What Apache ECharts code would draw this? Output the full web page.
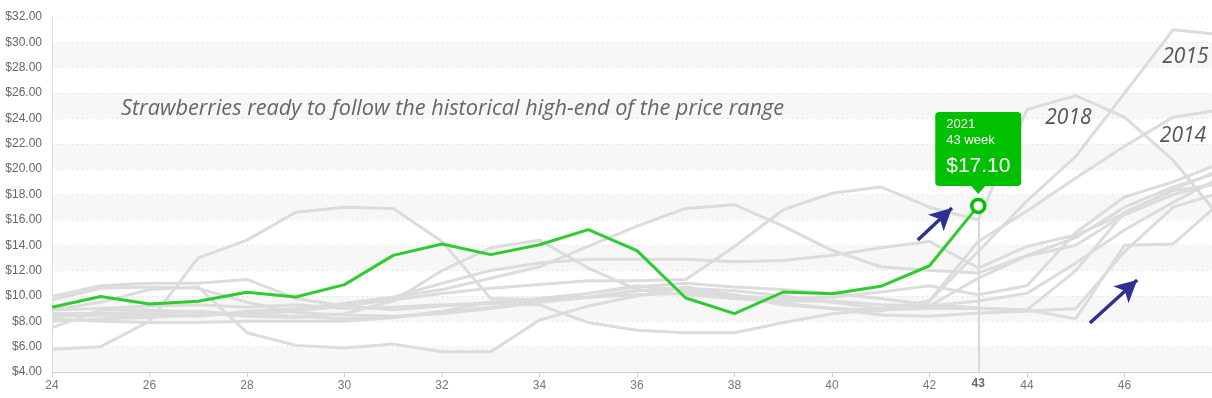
<!DOCTYPE html>
<html>
<head>
<meta charset="utf-8">
<script src="https://cdn.jsdelivr.net/npm/echarts@6/dist/echarts.min.js"></script>
<style>html,body{margin:0;padding:0;background:#fff}#c{width:1212px;height:398px}</style>
</head>
<body>
<div id="c"></div>
<script>
// weeks 24..48
var weeks = [24,25,26,27,28,29,30,31,32,33,34,35,36,37,38,39,40,41,42,43,44,45,46,47,48];
var yTicks = [4,6,8,10,12,14,16,18,20,22,24,26,28,30,32];

var y2021 = [9.1,9.95,9.37,9.58,10.29,9.92,10.89,13.2,14.1,13.26,14.04,15.23,13.57,9.84,8.6,10.31,10.18,10.76,12.38,17.1];

var y2015 = [5.8,6.0,8.0,13.0,14.4,16.6,17.0,16.9,14.3,9.8,9.7,9.9,10.4,10.6,10.4,10.0,9.5,9.0,9.6,13.5,17.5,21.0,26.0,31.0,30.6];
var y2018 = [8.4,8.5,8.4,8.5,8.6,8.8,9.2,9.7,10.2,10.6,10.9,11.2,11.2,11.3,13.9,16.8,18.1,18.6,17.0,16.0,24.7,25.8,24.1,20.7,16.0];
var y2014 = [9.7,10.6,10.7,10.6,9.5,8.7,8.5,8.4,8.6,9.0,9.5,9.9,10.4,10.6,10.1,9.4,9.0,8.8,9.6,14.3,16.7,19.3,21.8,24.1,24.7];
var y2016 = [8.0,8.2,8.3,8.5,8.6,8.8,9.4,9.9,10.5,11.4,12.3,13.9,15.5,16.9,17.2,15.5,13.6,12.3,12.0,11.8,13.2,14.6,17.0,18.6,19.8];
var y2013 = [8.9,9.5,10.5,10.7,7.1,6.1,5.9,6.2,5.6,5.6,8.1,9.2,10.0,10.7,10.0,9.3,9.0,8.9,9.0,9.0,8.9,8.2,14.0,14.1,17.5];
var y2019 = [8.6,8.6,8.6,8.4,8.8,9.0,9.4,9.9,11.0,12.0,12.6,12.9,12.9,12.9,12.7,12.8,13.2,13.8,14.3,12.2,13.9,14.8,16.5,18.4,20.0];
var y2017 = [7.5,8.9,8.9,8.7,8.4,8.3,8.6,9.6,12.0,13.8,14.4,12.2,10.5,10.1,9.8,9.6,9.6,9.3,9.2,11.4,13.15,14.0,16.4,18.0,19.0];
var y2012 = [8.2,8.0,7.9,7.9,8.0,8.0,8.0,8.3,8.8,9.5,9.3,7.9,7.3,7.1,7.1,7.9,8.6,8.9,9.2,9.6,10.2,12.6,15.2,17.4,19.4];
var y2020 = [9.95,10.8,11.0,11.0,11.3,9.8,9.2,8.9,9.2,9.5,9.8,10.2,10.8,10.4,10.0,9.8,9.9,10.3,10.8,10.1,10.8,15.0,17.8,19.0,20.5];
var y2011 = [8.6,8.6,8.7,8.8,8.5,8.4,8.2,8.3,8.7,9.1,9.6,10.2,10.7,11.0,10.7,10.5,10.2,9.8,9.3,9.05,8.9,12.0,16.6,18.3,18.9];
var y2010 = [8.9,9.0,9.2,9.3,9.1,9.3,9.0,9.1,9.3,9.4,9.6,9.9,10.1,10.2,9.9,9.4,9.0,8.5,8.4,8.65,8.8,9.0,13.5,17.0,18.2];

var greyYears = ['2010','2011','2012','2013','2014','2015','2016','2017','2018','2019','2020'];
var greyValues = [y2010,y2011,y2012,y2013,y2014,y2015,y2016,y2017,y2018,y2019,y2020];
var yearNotes = {'2015':[47.25,28.85],'2018':[44.85,24.0],'2014':[47.2,22.6]};

var handFont = 'Open Sans';

function pairs(vals){ return vals.map(function(v,i){ return [weeks[i], v]; }); }

var series = greyValues.map(function(vals, k){
  var yr = greyYears[k];
  var s = {
    name: yr, type:'line', data: pairs(vals), symbol:'none', silent:true,
    lineStyle:{color:'#dcdcdc', width:3}, z:2
  };
  if (yearNotes[yr]) {
    s.markPoint = {
      silent:true, symbol:'circle', symbolSize:0,
      data:[{coord: yearNotes[yr], value: yr}],
      label:{show:true, position:'inside', formatter: yr, fontSize:21,
        fontFamily:handFont, fontStyle:'italic', color:'#555', letterSpacing:1}
    };
  }
  return s;
});

var greenData = pairs(y2021);
greenData[greenData.length-1] = {
  value: greenData[greenData.length-1], symbol:'circle', symbolSize:13,
  itemStyle:{color:'#fff', borderColor:'#00c000', borderWidth:3.5}
};

series.push({
  name:'2021', type:'line', data: greenData, symbol:'none', showSymbol:true, z:10,
  lineStyle:{color:'#2ecc2e', width:3},
  itemStyle:{color:'#2ecc2e'},
  markLine:{
    silent:true, animation:false,
    data:[
      [{coord:[43,4], symbol:'none', lineStyle:{color:'#d8d8d8', width:2, type:'solid'},
        label:{show:true, position:'start', formatter:'43', color:'#666', fontWeight:'bold', fontSize:12, distance:6}},
       {coord:[43,17.1], symbol:'none'}],
      [{coord:[41.76,14.41], symbol:'none', lineStyle:{color:'#2e3192', width:3.5, type:'solid'}, label:{show:false}},
       {coord:[42.46,16.94], symbol:'arrow', symbolSize:[17,22]}],
      [{coord:[45.29,7.87], symbol:'none', lineStyle:{color:'#2e3192', width:3.5, type:'solid'}, label:{show:false}},
       {coord:[46.26,11.26], symbol:'arrow', symbolSize:[17,22]}]
    ]
  },
  markPoint:{
    silent:true, animation:false,
    symbol:'path://M4,0 H82 Q86,0 86,4 V70 Q86,74 82,74 H50 L43,82 L36,74 H4 Q0,74 0,70 V4 Q0,0 4,0 Z',
    symbolSize:[86,82], symbolKeepAspect:false, symbolOffset:[0,-53],
    itemStyle:{color:'#00c000'},
    data:[{coord:[43,17.1]}],
    label:{show:true, position:[11,5], align:'left', verticalAlign:'top',
      formatter:'{a|2021}\n{a|43 week}\n{b|$17.10}',
      rich:{a:{fontSize:13, color:'#fff', lineHeight:16, fontFamily:'Liberation Sans'},
            b:{fontSize:21, color:'#fff', lineHeight:34, fontFamily:'Liberation Sans'}}}
  }
});

var chart = echarts.init(document.getElementById('c'), null, {renderer:'canvas'});
chart.setOption({
  animation:false,
  backgroundColor:'#fff',
  title:{text:'Strawberries ready to follow the historical high-end of the price range',
    left:116, top:93,
    textStyle:{fontSize:21.7, fontWeight:'normal', fontFamily:handFont, fontStyle:'italic', color:'#666'}},
  grid:{left:52, right:-10, top:17, bottom:26, outerBoundsMode:'none', containLabel:false},
  xAxis:{type:'value', min:24, max:48, interval:2,
    axisLine:{show:true, lineStyle:{color:'#d0d0d0', width:1}},
    axisTick:{show:true, length:5, lineStyle:{color:'#d0d0d0'}},
    axisLabel:{color:'#777', fontSize:12, margin:8, fontFamily:'Liberation Sans'},
    splitLine:{show:false}},
  yAxis:{type:'value', min:yTicks[0], max:yTicks[yTicks.length-1], interval:2,
    axisLine:{show:true, lineStyle:{color:'#e0e0e0', width:1}},
    axisTick:{show:false},
    axisLabel:{color:'#666', fontSize:12, margin:10, fontFamily:'Liberation Sans',
      formatter:function(v){ return '$' + v.toFixed(2); }},
    splitLine:{show:true, lineStyle:{color:'#dcdcdc', type:[1,4], width:1}},
    splitArea:{show:true, areaStyle:{color:['#f7f7f7','#ffffff']}}},
  series: series
});
</script>
</body>
</html>
